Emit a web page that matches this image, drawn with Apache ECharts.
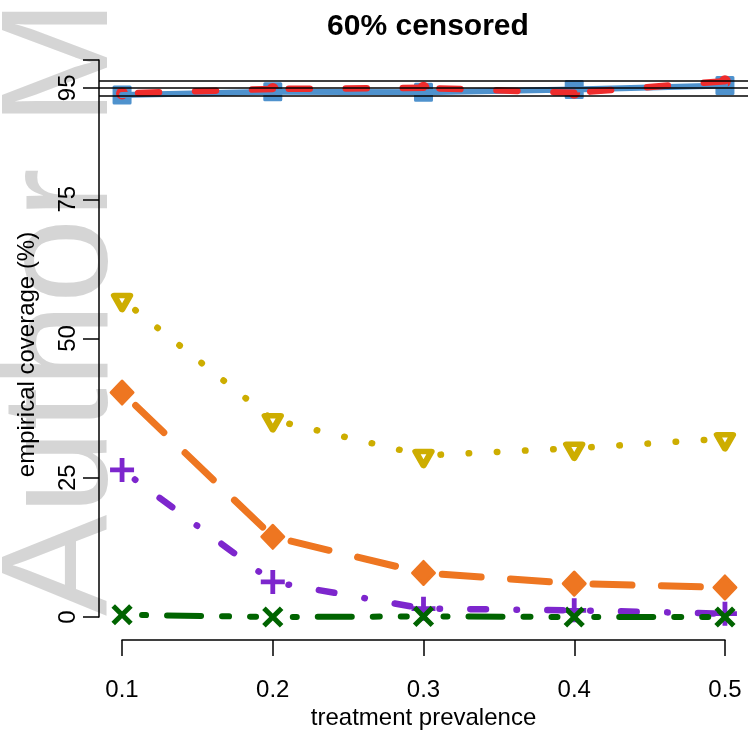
<!DOCTYPE html>
<html>
<head>
<meta charset="utf-8">
<script src="https://cdn.jsdelivr.net/npm/echarts@6/dist/echarts.min.js"></script>
<style>
  html, body { margin: 0; padding: 0; background: #fff; }
  #chart { width: 748px; height: 736px; }
</style>
</head>
<body>
<div id="chart"></div>
<script>
// treatment prevalence
const prevalence = [0.1, 0.2, 0.3, 0.4, 0.5];
// empirical coverage (%) per method
const covBlue = [93.7, 94.3, 94.2, 94.7, 95.4];
const covRed = [94.0, 94.8, 95.0, 94.1, 96.2];
const covYellow = [57.0, 35.4, 29.0, 30.3, 32.0];
const covOrange = [40.3, 14.4, 7.9, 6.0, 5.3];
const covPurple = [26.4, 6.3, 1.5, 1.2, 0.6];
const covGreen = [0.4, 0.0, 0.1, 0.0, 0.0];
// nominal level and Monte Carlo band
const refLines = [93.65, 95, 96.35];
const yTicks = [0, 25, 50, 75, 95, 100];
const yLabels = [0, 25, 50, 75, 95];
const xTicks = [0.1, 0.2, 0.3, 0.4, 0.5];

const font = "Liberation Sans, Arial, Helvetica, sans-serif";
const plusPath = "path://M-1,-5L1,-5L1,-1L5,-1L5,1L1,1L1,5L-1,5L-1,1L-5,1L-5,-1L-1,-1Z";

var chart = echarts.init(document.getElementById("chart"), null, { renderer: "canvas" });

var groups = [
  { values: covBlue, color: "#4F92CD", width: 6, dash: "solid", offset: 0,
    symbol: "rect", size: 16, border: 3, fill: null },
  { values: covRed, color: "#EE2C2C", width: 6.5, dash: [21, 36], offset: 41,
    symbol: "circle", size: 12, border: 0, fill: null },
  { values: covYellow, color: "#CDAD00", width: 6.5, dash: [0.5, 27.7], offset: 11.2,
    symbol: "triangle", size: [16, 14], border: 6, fill: "#ffffff", rotate: 180, symOffset: [0, 3] },
  { values: covOrange, color: "#EE7621", width: 7, dash: [39, 29.4], offset: 49.6,
    symbol: "diamond", size: [22, 23], border: 3, fill: null },
  { values: covPurple, color: "#7D26CD", width: 6.5, dash: [0.5, 30.3, 15.7, 30.5], offset: 61,
    symbol: plusPath, size: 24, border: 0, fill: null },
  { values: covGreen, color: "#006400", width: 6, dash: [4, 21, 34, 21, 7, 21, 6, 37], offset: 131,
    symbol: plusPath, size: 25, border: 0, fill: null, rotate: 45 },
];

var series = [];

// reference lines first
series.push({
  type: "line",
  xAxisIndex: 0,
  yAxisIndex: 0,
  data: [],
  silent: true,
  markLine: {
    silent: true,
    symbol: "none",
    label: { show: false },
    lineStyle: { color: "#000", width: 1.5, type: "solid" },
    data: refLines.map((v) => ({ yAxis: v })),
  },
});

groups.forEach((g) => {
  // R restarts the dash pattern at every vertex, so one series per segment
  for (var i = 0; i < prevalence.length - 1; i++) {
    series.push({
      type: "line",
      xAxisIndex: 0,
      yAxisIndex: 0,
      symbol: "none",
      silent: true,
      data: [
        [prevalence[i], g.values[i]],
        [prevalence[i + 1], g.values[i + 1]],
      ],
      lineStyle: {
        color: g.color,
        width: g.width,
        type: g.dash,
        dashOffset: g.offset,
        cap: "round",
      },
    });
  }
  series.push({
    type: "scatter",
    xAxisIndex: 0,
    yAxisIndex: 0,
    silent: true,
    symbol: g.symbol,
    symbolSize: g.size,
    symbolRotate: g.rotate || 0,
    symbolOffset: g.symOffset || [0, 0],
    data: prevalence.map((x, i) => [x, g.values[i]]),
    itemStyle: {
      color: g.fill || g.color,
      borderColor: g.color,
      borderWidth: g.border,
      borderJoin: "round",
      opacity: 1,
    },
  });
});

var option = {
  backgroundColor: "#ffffff",
  animation: false,
  textStyle: { fontFamily: font, color: "#000" },
  title: {
    text: "60% censored",
    left: 423,
    top: 7,
    textAlign: "center",
    textStyle: { fontFamily: font, fontSize: 30, fontWeight: "bold", color: "#000" },
  },
  graphic: [
    {
      type: "text",
      z: -10,
      x: 141,
      y: 616,
      rotation: Math.PI / 2,
      silent: true,
      style: {
        text: "Author M",
        fill: "rgba(150,150,150,0.4)",
        font: "152px " + font,
        align: "left",
        verticalAlign: "bottom",
        textAlign: "left",
        textVerticalAlign: "bottom",
      },
    },
  ],
  grid: [
    // plot region (data)
    { left: 99, right: 0, top: 40, bottom: 96 },
    // y axis drawn from 0 to 100 only
    { left: 99, width: 10, top: 60, bottom: 119 },
    // x axis drawn from 0.1 to 0.5 only
    { left: 122, right: 23, top: 639, bottom: 96 },
  ],
  xAxis: [
    { gridIndex: 0, type: "value", min: 0.0847, max: 0.5153, show: false },
    { gridIndex: 1, type: "value", show: false },
    {
      gridIndex: 2,
      type: "value",
      min: 0.1,
      max: 0.5,
      interval: 0.1,
      position: "bottom",
      name: "treatment prevalence",
      nameLocation: "middle",
      nameGap: 66,
      nameTextStyle: { fontFamily: font, fontSize: 24, color: "#000" },
      axisLine: { show: true, lineStyle: { color: "#000", width: 1.5 } },
      axisTick: { show: true, length: 16, lineStyle: { color: "#000", width: 1.5 }, customValues: xTicks },
      axisLabel: {
        fontFamily: font,
        fontSize: 24,
        color: "#000",
        margin: 38,
        customValues: xTicks,
        formatter: (v) => v.toFixed(1),
      },
      splitLine: { show: false },
    },
  ],
  yAxis: [
    { gridIndex: 0, type: "value", min: -4.13, max: 103.59, show: false },
    {
      gridIndex: 1,
      type: "value",
      min: 0,
      max: 100,
      position: "left",
      name: "empirical coverage (%)",
      nameLocation: "middle",
      nameRotate: 90,
      nameGap: 60,
      nameTextStyle: { fontFamily: font, fontSize: 24, color: "#000", padding: [0, 32, 0, 0] },
      axisLine: { show: true, lineStyle: { color: "#000", width: 1.5 } },
      axisTick: { show: true, length: 16, lineStyle: { color: "#000", width: 1.5 }, customValues: yTicks },
      axisLabel: {
        fontFamily: font,
        fontSize: 24,
        color: "#000",
        rotate: 90,
        margin: 19,
        customValues: yLabels,
      },
      splitLine: { show: false },
    },
    { gridIndex: 2, type: "value", show: false },
  ],
  series: series,
};

option && chart.setOption(option);
</script>
</body>
</html>
